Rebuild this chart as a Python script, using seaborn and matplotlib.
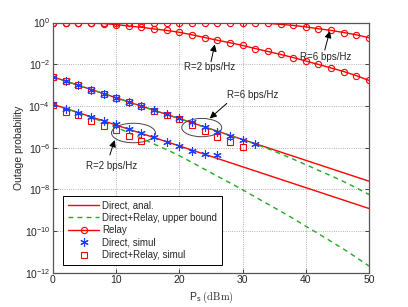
import numpy as np
import matplotlib
matplotlib.use('Agg')
import matplotlib.pyplot as plt
from matplotlib.lines import Line2D
from matplotlib.patches import Ellipse
import seaborn as sns

# transmit power grid (dBm)
ps = np.arange(0, 51, 2)

# outage probabilities, stored as log10 values
direct_r2 = [-3.92, -4.12, -4.32, -4.52, -4.72, -4.92, -5.12, -5.32, -5.52, -5.72, -5.92, -6.12, -6.32,
             -6.52, -6.72, -6.92, -7.12, -7.32, -7.52, -7.72, -7.92, -8.12, -8.32, -8.52, -8.72, -8.92]
direct_r6 = [-2.61, -2.81, -3.01, -3.21, -3.41, -3.61, -3.81, -4.01, -4.21, -4.41, -4.61, -4.81, -5.01,
             -5.21, -5.41, -5.61, -5.81, -6.01, -6.21, -6.41, -6.61, -6.81, -7.01, -7.21, -7.41, -7.61]
bound_r2 = [-3.92, -4.12, -4.33, -4.55, -4.77, -5.02, -5.29, -5.55, -5.83, -6.10, -6.39, -6.71, -7.04,
            -7.37, -7.69, -8.02, -8.37, -8.71, -9.05, -9.40, -9.77, -10.13, -10.50, -10.87, -11.27, -11.68]
bound_r6 = [-2.61, -2.81, -3.01, -3.21, -3.41, -3.61, -3.81, -4.01, -4.21, -4.41, -4.61, -4.81, -5.02,
            -5.22, -5.42, -5.62, -5.83, -6.05, -6.30, -6.55, -6.82, -7.09, -7.35, -7.63, -7.93, -8.25]
relay_r2 = [0.0, 0.0, -0.01, -0.03, -0.05, -0.10, -0.17, -0.23, -0.31, -0.38, -0.47, -0.59, -0.72,
            -0.85, -0.97, -1.10, -1.25, -1.39, -1.53, -1.68, -1.85, -2.01, -2.18, -2.35, -2.55, -2.78]
relay_r6 = [0.0, 0.0, 0.0, 0.0, 0.0, 0.0, 0.0, 0.0, 0.0, 0.0, 0.0, 0.0, -0.005,
            -0.005, -0.005, -0.01, -0.02, -0.04, -0.09, -0.14, -0.21, -0.30, -0.38, -0.48, -0.59, -0.73]

# simulation points
sim_direct_r2 = [-3.92, -4.14, -4.35, -4.52, -4.71, -4.89, -5.11, -5.31, -5.50, -5.73, -5.92, -6.14, -6.29, -6.37]
sim_direct_r6 = [-2.62, -2.82, -3.01, -3.22, -3.41, -3.61, -3.81, -4.01, -4.20, -4.40, -4.60, -4.79, -5.00,
                 -5.23, -5.43, -5.63, -5.83]
sim_both_r2 = [-3.98, -4.27, -4.46, -4.73, -4.94, -5.14, -5.42, -5.68]
sim_both_r6 = [-2.62, -2.82, -3.01, -3.22, -3.41, -3.61, -3.81, -4.01, -4.25, -4.44, -4.63, -4.93,
               -5.22, -5.50, -5.73, -5.96]

sns.set_style('ticks')
plt.rcParams['font.family'] = ['Liberation Sans', 'DejaVu Sans']
plt.rcParams['mathtext.fontset'] = 'cm'
plt.rcParams['mathtext.default'] = 'regular'

fig = plt.figure(figsize=(4.08, 3.07), dpi=100)
ax = fig.add_axes([0.1299, 0.1117, 0.7745, 0.815])
ax.set_yscale('log')

red = '#ff0000'
green = '#22aa22'
blue = '#1a3cff'

def p(v):
    return 10 ** np.array(v)

for d in (direct_r2, direct_r6):
    sns.lineplot(x=ps, y=p(d), ax=ax, color=red, lw=1.0, errorbar=None)
for d in (bound_r2, bound_r6):
    sns.lineplot(x=ps, y=p(d), ax=ax, color=green, lw=1.0, linestyle=(0, (3.5, 3)), errorbar=None)
for d in (relay_r2, relay_r6):
    sns.lineplot(x=ps, y=p(d), ax=ax, color=red, lw=1.0, marker='o', markersize=4.5,
                 markerfacecolor='none', markeredgecolor=red, markeredgewidth=0.8, errorbar=None)
for d in (sim_both_r2, sim_both_r6):
    sns.lineplot(x=ps[:len(d)], y=p(d), ax=ax, linestyle='none', marker='s', markersize=4.3,
                 markerfacecolor='none', markeredgecolor=red, markeredgewidth=0.8, errorbar=None)
for d in (sim_direct_r2, sim_direct_r6):
    sns.lineplot(x=ps[:len(d)], y=p(d), ax=ax, linestyle='none', marker=(6, 2, 0), markersize=6,
                 markeredgecolor=blue, markeredgewidth=0.8, errorbar=None)

ax.set_xlim(0, 50)
ax.set_ylim(1e-12, 1)
ax.set_xticks([0, 10, 20, 30, 40, 50])
ax.set_yticks([1e-12, 1e-10, 1e-8, 1e-6, 1e-4, 1e-2, 1])
ax.yaxis.set_minor_locator(matplotlib.ticker.NullLocator())
ax.tick_params(direction='in', top=True, right=True, length=3, width=0.6, labelsize=7.5, pad=2)
ax.grid(True, which='major', linestyle=':', color='#999999', lw=0.6)
for s in ax.spines.values():
    s.set_color('#555555')
    s.set_linewidth(0.9)

ax.set_xlabel(r'$P_s$ $\mathrm{(dBm)}$', fontsize=7.5, labelpad=3)
ax.set_ylabel('Outage probability', fontsize=7.5, labelpad=0.5)

# annotations
ax.text(24.8, 10 ** -2.12, 'R=2 bps/Hz', fontsize=7, ha='center', va='center')
ax.text(43.2, 10 ** -1.67, 'R=6 bps/Hz', fontsize=7, ha='center', va='center')
ax.text(31.6, 10 ** -3.48, 'R=6 bps/Hz', fontsize=7, ha='center', va='center')
ax.text(9.26, 10 ** -6.87, 'R=2 bps/Hz', fontsize=7, ha='center', va='center')
arrows = [((25.0, -1.88), (25.6, -1.05)), ((43.0, -1.32), (43.8, -0.41)),
          ((27.5, -3.88), (24.8, -4.6)), ((9.0, -6.35), (9.76, -5.64))]
for (tx, ty), (hx, hy) in arrows:
    ax.annotate('', xy=(hx, 10 ** hy), xytext=(tx, 10 ** ty),
                arrowprops=dict(arrowstyle='-|>', color='k', lw=0.7, mutation_scale=10,
                                shrinkA=0, shrinkB=0))
ax.add_patch(Ellipse((0.4706, 0.580), 0.1266, 0.0731, transform=ax.transAxes,
                     fill=False, ec='#444444', lw=0.7))
ax.add_patch(Ellipse((0.2547, 0.5584), 0.139, 0.078, transform=ax.transAxes,
                     fill=False, ec='#444444', lw=0.7))

handles = [
    Line2D([], [], color=red, lw=1.0),
    Line2D([], [], color=green, lw=1.0, linestyle=(0, (3.5, 3))),
    Line2D([], [], color=red, lw=1.0, marker='o', markersize=4.5, markerfacecolor='none', markeredgewidth=0.8),
    Line2D([], [], linestyle='none', marker=(6, 2, 0), markersize=6, markeredgecolor=blue, markeredgewidth=0.8),
    Line2D([], [], linestyle='none', marker='s', markersize=4.3, markerfacecolor='none',
           markeredgecolor=red, markeredgewidth=0.8),
]
labels = ['Direct, anal.', 'Direct+Relay, upper bound', 'Relay', 'Direct, simul', 'Direct+Relay, simul']
leg = ax.legend(handles, labels, loc='lower left', bbox_to_anchor=(0.033, 0.031), borderaxespad=0,
                fontsize=7, handlelength=3.2, handletextpad=0.3, labelspacing=0.25, borderpad=0.5,
                fancybox=False, framealpha=1, edgecolor='black')
leg.get_frame().set_linewidth(0.7)

fig.savefig('out.png', dpi=100)
